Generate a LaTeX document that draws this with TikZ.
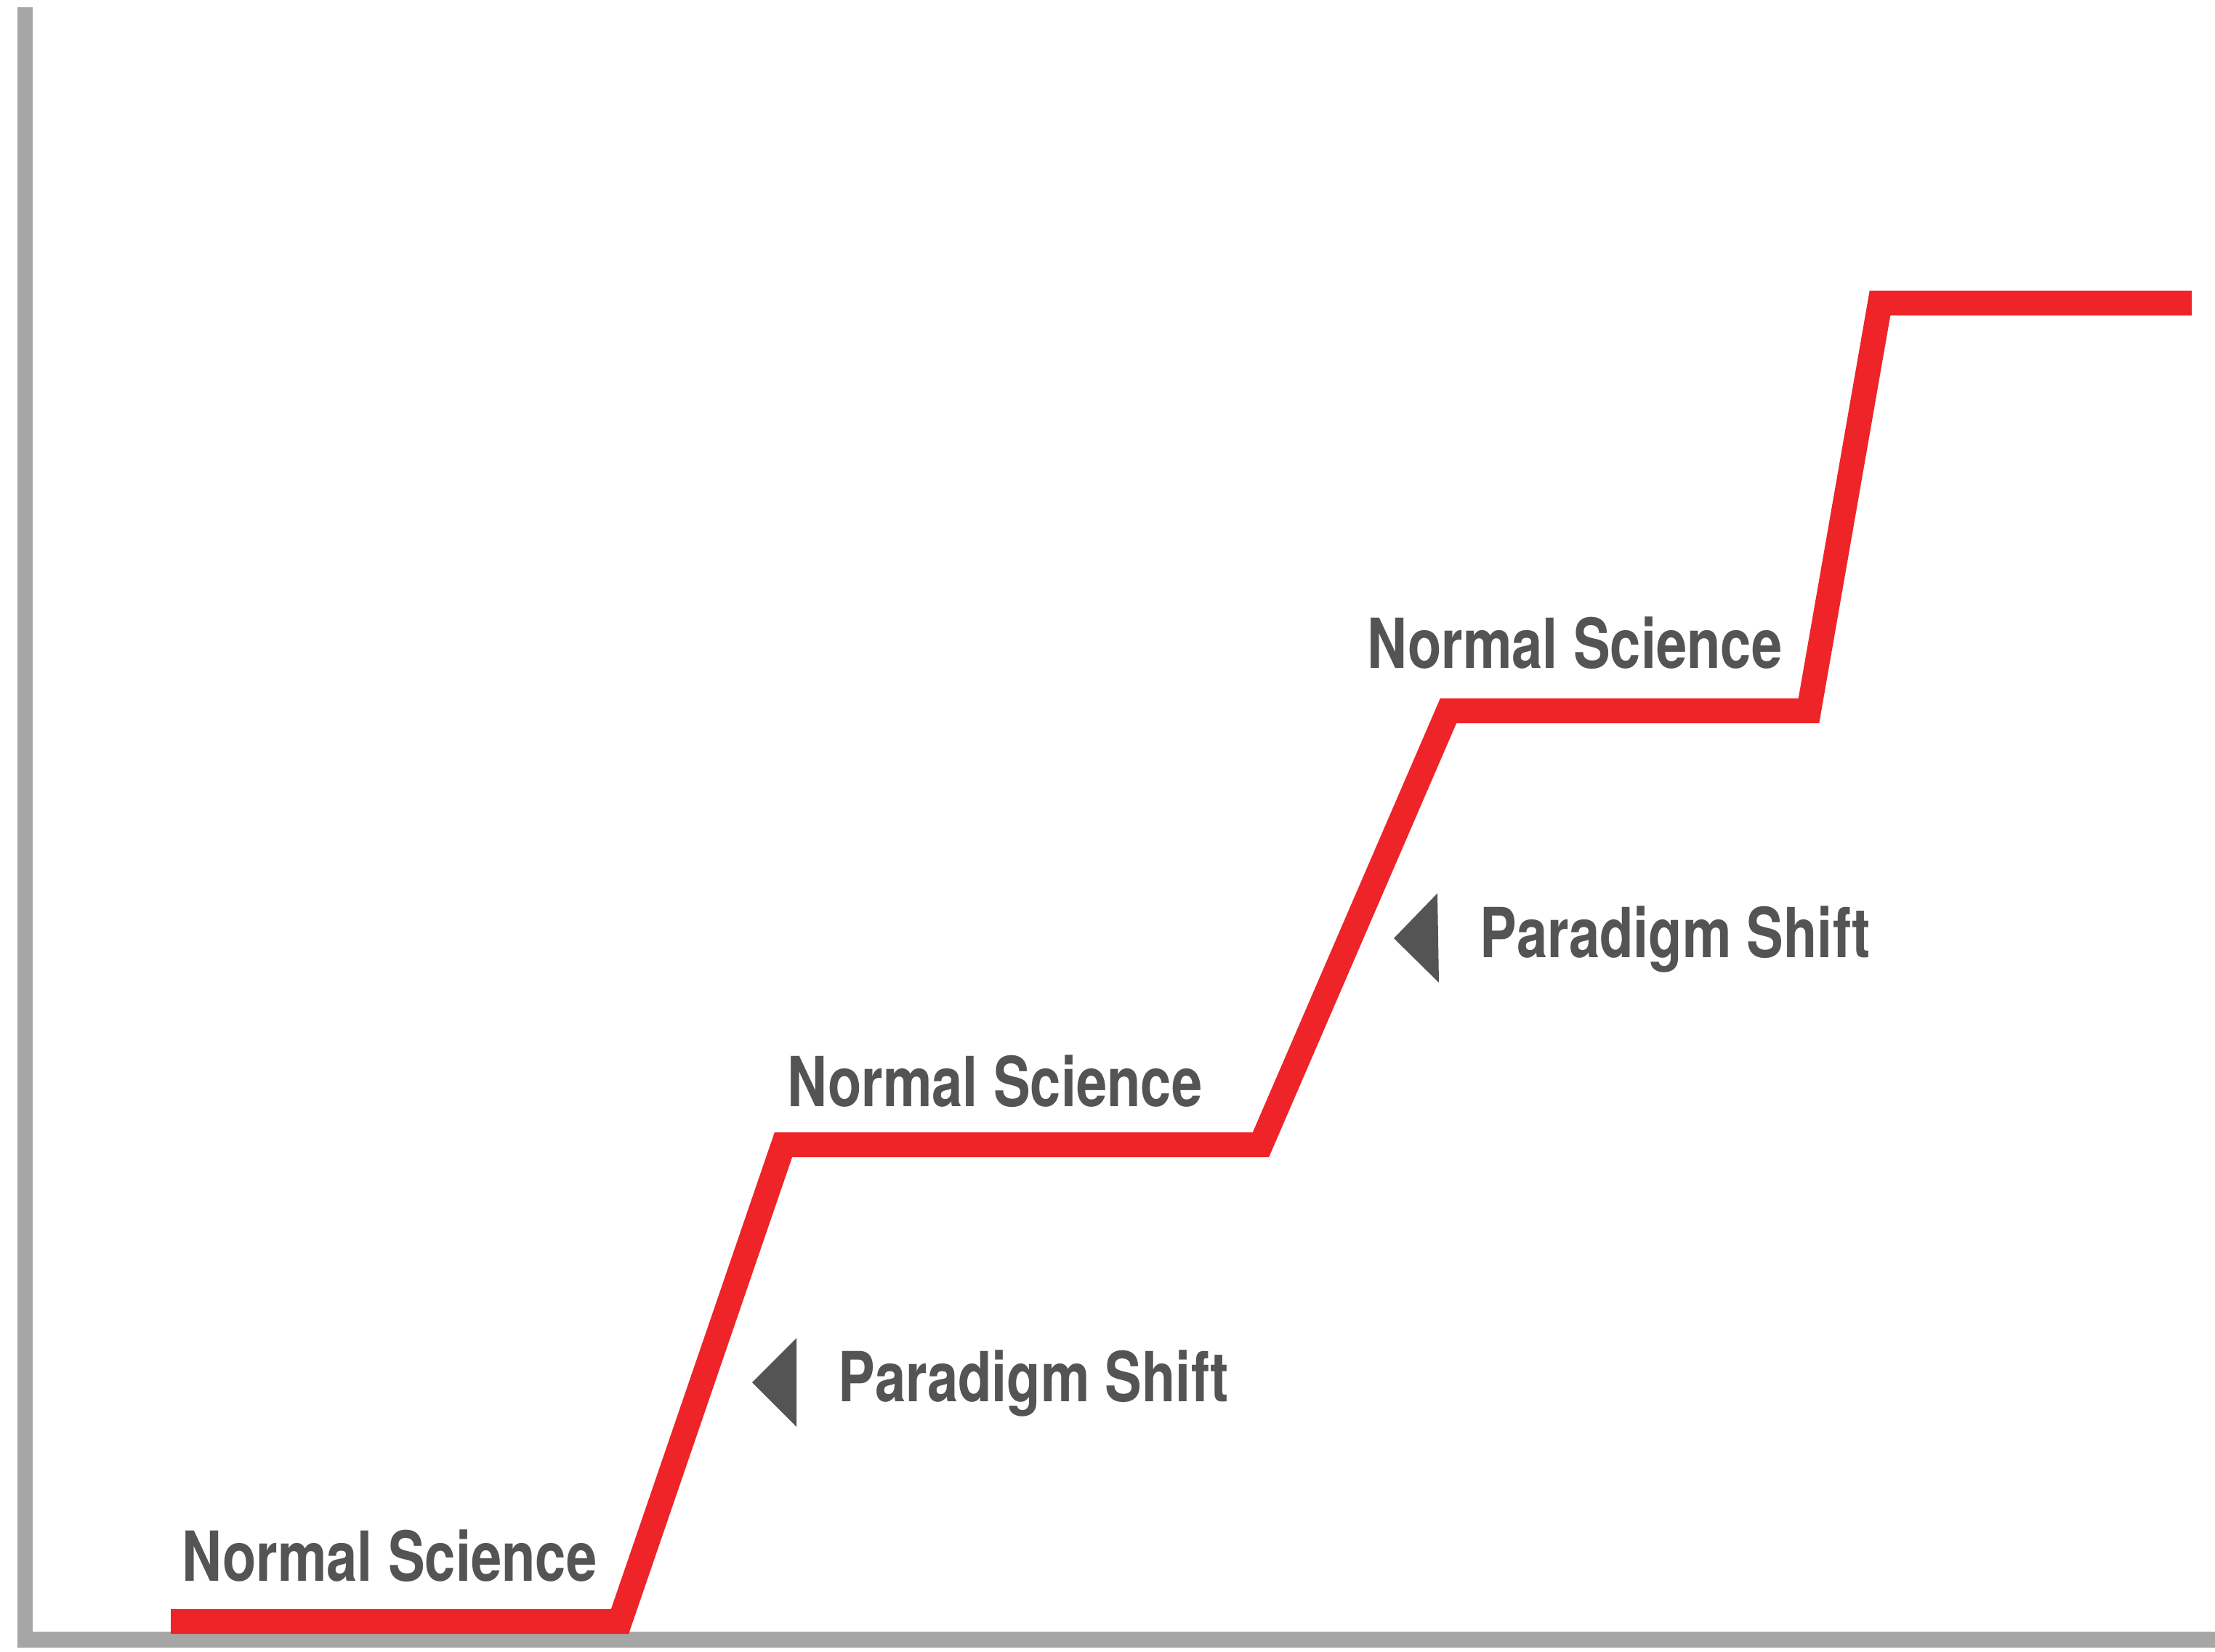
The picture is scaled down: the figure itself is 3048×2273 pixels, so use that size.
\documentclass[tikz,border=0pt]{standalone}
\usepackage{fontspec}
\newfontfamily\labfont[FakeStretch=0.80]{texgyreheros-bold.otf}
\definecolor{stepred}{RGB}{238,36,40}
\definecolor{axisgrey}{RGB}{166,166,166}
\definecolor{labgrey}{RGB}{84,84,84}
\tikzset{
  lab/.style={anchor=base west, inner sep=0pt, text=labgrey,
    font=\labfont\fontsize{27}{32}\selectfont},
  axisline/.style={draw=axisgrey, line width=0.215cm, line join=miter},
  stepline/.style={draw=stepred, line width=0.34cm, line join=miter, line cap=butt},
  marker/.style={fill=labgrey}
}
\begin{document}
\begin{tikzpicture}[x=0.01cm, y=-0.01cm]
\useasboundingbox (0,0) rectangle (3048,2273);
% axes
\coordinate (ytop) at (34.5,10);
\coordinate (origin) at (34.5,2256);
\coordinate (xend) at (3048,2256);
\draw[axisline] (ytop) -- (origin) -- (xend);
% step line
\coordinate (s0) at (235,2231);
\coordinate (s1) at (853,2231);
\coordinate (s2) at (1078,1575);
\coordinate (s3) at (1735,1575);
\coordinate (s4) at (1993,978);
\coordinate (s5) at (2489,978);
\coordinate (s6) at (2587,417);
\coordinate (s7) at (3016,417);
\draw[stepline] (s0) -- (s1) -- (s2) -- (s3) -- (s4) -- (s5) -- (s6) -- (s7);
% labels
\node[lab] (ns1) at (250,2175) {Normal Science};
\node[lab] (ns2) at (1083,1522) {Normal Science};
\node[lab] (ns3) at (1881,919) {Normal Science};
\node[lab] (ps1) at (1153,1928) {Paradigm Shift};
\node[lab] (ps2) at (2036,1317) {Paradigm Shift};
% markers
\coordinate (t1a) at (1096,1841);
\coordinate (t1b) at (1096,1963);
\coordinate (t1c) at (1035,1902);
\fill[marker] (t1a) -- (t1b) -- (t1c) -- cycle;
\coordinate (t2a) at (1978,1229);
\coordinate (t2b) at (1980,1352);
\coordinate (t2c) at (1918,1291);
\fill[marker] (t2a) -- (t2b) -- (t2c) -- cycle;
\end{tikzpicture}
\end{document}
